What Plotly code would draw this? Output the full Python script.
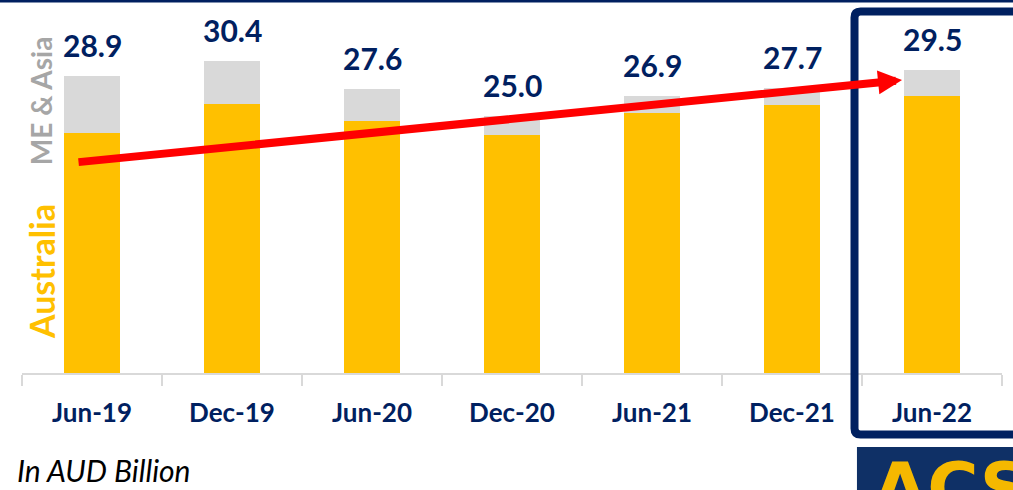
import plotly.graph_objects as go

categories = ["Jun-19", "Dec-19", "Jun-20", "Dec-20", "Jun-21", "Dec-21", "Jun-22"]
australia = [23.3, 26.2, 24.5, 23.2, 25.3, 26.1, 26.9]
totals = [28.9, 30.4, 27.6, 25.0, 26.9, 27.7, 29.5]
me_asia = [round(t - a, 1) for t, a in zip(totals, australia)]
total_labels = ["28.9", "30.4", "27.6", "25.0", "26.9", "27.7", "29.5"]

# trend arrow (data coordinates: category index, value)
arrow_tail = (-0.107, 20.5)
arrow_tip = (5.786, 28.5)

NAVY = "#002060"
YELLOW = "#FFC000"
GREY = "#D9D9D9"
FONT = "Lato"

fig = go.Figure()
fig.add_trace(go.Bar(x=categories, y=australia, marker_color=YELLOW, name="Australia",
                     marker_line_width=0, hoverinfo="skip"))
fig.add_trace(go.Bar(x=categories, y=me_asia, marker_color=GREY, name="ME & Asia",
                     marker_line_width=0, hoverinfo="skip"))

for c, t, lab in zip(categories, totals, total_labels):
    fig.add_annotation(x=c, y=t, text=f"<b>{lab}</b>", showarrow=False, yanchor="bottom",
                       yshift=11, font=dict(family=FONT, size=30, color=NAVY))

fig.add_annotation(x=arrow_tip[0], y=arrow_tip[1], ax=arrow_tail[0], ay=arrow_tail[1],
                   xref="x", yref="y", axref="x", ayref="y", text="", showarrow=True,
                   arrowhead=2, arrowsize=0.6, arrowwidth=8, arrowcolor="#FF0000")

# side labels
fig.add_annotation(xref="paper", yref="paper", x=0.0194, y=0.77, text="<b>ME & Asia</b>",
                   xanchor="center", yanchor="middle",
                   textangle=-90, showarrow=False, font=dict(family=FONT, size=28, color="#A6A6A6"))
fig.add_annotation(xref="paper", yref="paper", x=0.0194, y=0.286, text="<b>Australia</b>",
                   xanchor="center", yanchor="middle",
                   textangle=-90, showarrow=False, font=dict(family=FONT, size=34, color=YELLOW))

fig.add_annotation(xref="paper", yref="paper", x=-0.0072, y=-0.275, xanchor="left",
                   yanchor="middle", text="<i>In AUD Billion</i>", showarrow=False,
                   font=dict(family=FONT, size=30, color="#000000"))

# top navy rule
fig.add_shape(type="line", xref="paper", yref="paper", x0=-0.03, x1=1.03, y0=1.054, y1=1.054,
              line=dict(color=NAVY, width=3))
# highlight box around last period (rounded corners)
bx0, bx1, byt, byb = 0.8495, 1.05, 1.0241, -0.1742
rx, ry = 0.0061, 0.017
box_path = (f"M {bx0},{byb + ry} L {bx0},{byt - ry} Q {bx0},{byt} {bx0 + rx},{byt} "
            f"L {bx1},{byt} L {bx1},{byb} L {bx0 + rx},{byb} Q {bx0},{byb} {bx0},{byb + ry} Z")
fig.add_shape(type="path", xref="paper", yref="paper", path=box_path,
              line=dict(color=NAVY, width=8))
# logo block
fig.add_shape(type="rect", xref="paper", yref="paper", x0=0.852, x1=1.05, y0=-0.2096, y1=-0.36,
              fillcolor="#0F3066", line=dict(width=0))
fig.add_annotation(xref="paper", yref="paper", x=0.866, y=-0.205, xanchor="left", yanchor="top",
                   text="<b>ACS</b>", showarrow=False,
                   font=dict(family="DejaVu Sans", size=70, color="#F5B800"))

fig.update_layout(
    barmode="stack", bargap=0.6, width=1013, height=490,
    margin=dict(l=22, r=11, t=20, b=117),
    plot_bgcolor="white", paper_bgcolor="white", showlegend=False,
    xaxis=dict(type="category", showline=True, linecolor=GREY, linewidth=2,
               ticks="outside", tickson="boundaries", ticklen=11, tickcolor=GREY, tickwidth=2,
               tickfont=dict(family=FONT, size=26, color=NAVY), ticklabelstandoff=16,
               tickprefix="<b>", ticksuffix="</b>", range=[-0.5, 6.5]),
    yaxis=dict(visible=False, range=[0, 34.34], showgrid=False),
)

fig.write_html("out.html", config={"displayModeBar": False},
               post_script="document.body.style.margin='0';document.body.style.overflow='hidden';")
